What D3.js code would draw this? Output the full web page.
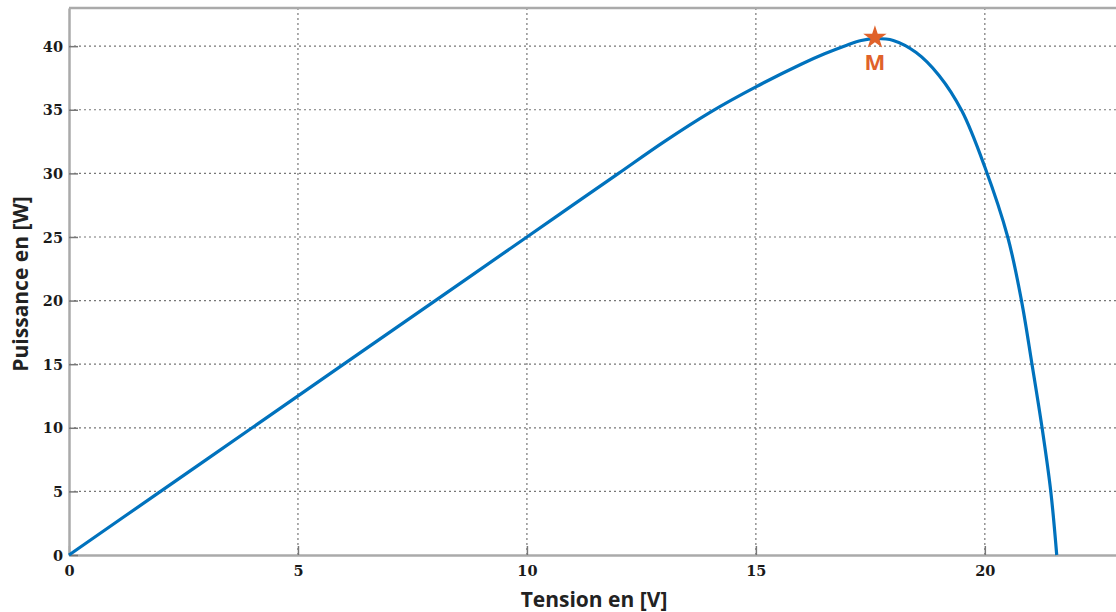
<!DOCTYPE html>
<html>
<head>
<meta charset="utf-8">
<script src="https://cdn.jsdelivr.net/npm/d3@7"></script>
<style>
  body { margin: 0; background: #fff; overflow: hidden; }
  .tick text { font-family: "DejaVu Serif", serif; font-weight: bold; font-size: 14.5px; fill: #1a1a1a; }
</style>
</head>
<body>
<div id="container"></div>
<script>
/**
 * DATA
 * */
const voltage = [0, 2, 4, 6, 8, 10, 11, 12, 13, 14, 15, 16, 16.5, 17, 17.3, 17.6, 18, 18.5, 19, 19.5, 20, 20.5, 20.8, 21.03, 21.25, 21.44, 21.57];
const power   = [0, 5.0, 10.0, 15.0, 20.0, 25.0, 27.5, 30.0, 32.5, 34.8, 36.8, 38.6, 39.4, 40.1, 40.45, 40.6, 40.45, 39.5, 37.7, 34.9, 30.5, 25.0, 20.0, 15.0, 10.0, 5.0, 0];
const xTicks = [0, 5, 10, 15, 20];
const yTicks = [0, 5, 10, 15, 20, 25, 30, 35, 40];
const mpp = { v: 17.6, p: 40.6, label: "M" };

/**
 * CONSTANTS AND GLOBALS
 * */
const width = 1116,
  height = 612,
  margin = { top: 8, bottom: 57, left: 69, right: -52 };

const xScale = d3.scaleLinear()
  .domain([0, 24])
  .range([margin.left, width - margin.right]);

const yScale = d3.scaleLinear()
  .domain([0, 43])
  .range([height - margin.bottom, margin.top]);

const svg = d3.select("#container").append("svg")
  .attr("width", width)
  .attr("height", height);

const data = voltage.map((v, i) => ({ v: v, p: power[i] }));

// grid lines (dotted)
svg.append("g")
  .selectAll("line")
  .data(xTicks.filter(d => d > 0))
  .join("line")
  .attr("x1", d => xScale(d)).attr("x2", d => xScale(d))
  .attr("y1", yScale.range()[0]).attr("y2", yScale.range()[1])
  .attr("stroke", "#777").attr("stroke-width", 1.2)
  .attr("stroke-dasharray", "2,3");

svg.append("g")
  .selectAll("line")
  .data(yTicks.filter(d => d > 0))
  .join("line")
  .attr("x1", xScale.range()[0]).attr("x2", xScale.range()[1])
  .attr("y1", d => yScale(d)).attr("y2", d => yScale(d))
  .attr("stroke", "#777").attr("stroke-width", 1.2)
  .attr("stroke-dasharray", "2,3");

// axes (ticks pointing inward, like MATLAB)
const xAxis = svg.append("g")
  .attr("transform", `translate(0,${yScale(0)})`)
  .call(d3.axisBottom(xScale).tickValues(xTicks).tickSizeInner(-9).tickSizeOuter(0).tickPadding(8));

const yAxis = svg.append("g")
  .attr("transform", `translate(${xScale(0)},0)`)
  .call(d3.axisLeft(yScale).tickValues(yTicks).tickSizeInner(-9).tickSizeOuter(0).tickPadding(6));

[xAxis, yAxis].forEach(g => {
  g.select(".domain").attr("stroke", "#aaa").attr("stroke-width", 2.5);
  g.selectAll(".tick line").attr("stroke", "#777").attr("stroke-width", 1.5);
});
xAxis.selectAll(".tick text").attr("dy", "0.9em");
yAxis.selectAll(".tick text").attr("dy", "0.35em");

// top border of the box
svg.append("line")
  .attr("x1", xScale.range()[0]).attr("x2", xScale.range()[1])
  .attr("y1", yScale.range()[1]).attr("y2", yScale.range()[1])
  .attr("stroke", "#aaa").attr("stroke-width", 2.5);

// P-V curve
const line = d3.line()
  .x(d => xScale(d.v))
  .y(d => yScale(d.p))
  .curve(d3.curveCatmullRom.alpha(0.5));

svg.append("path")
  .datum(data)
  .attr("d", line)
  .attr("fill", "none")
  .attr("stroke", "#0072BD")
  .attr("stroke-width", 3.2)
  .attr("stroke-linejoin", "round");

// maximum power point
svg.append("path")
  .attr("d", d3.symbol(d3.symbolStar, 170)())
  .attr("transform", `translate(${xScale(mpp.v)},${yScale(mpp.p) - 1})`)
  .attr("fill", "#E0622A");

svg.append("text")
  .attr("x", xScale(mpp.v))
  .attr("y", yScale(mpp.p) + 31)
  .attr("text-anchor", "middle")
  .attr("font-family", "Open Sans, sans-serif")
  .attr("font-weight", "bold")
  .attr("font-size", 22)
  .attr("fill", "#E0622A")
  .text(mpp.label);

// axis labels
svg.append("text")
  .attr("x", 594)
  .attr("y", 607)
  .attr("text-anchor", "middle")
  .attr("font-family", "Open Sans, sans-serif")
  .attr("font-weight", "bold")
  .attr("font-size", 21)
  .attr("fill", "#222")
  .text("Tension en [V]");

svg.append("text")
  .attr("transform", "translate(28,284) rotate(-90)")
  .attr("text-anchor", "middle")
  .attr("font-family", "Open Sans, sans-serif")
  .attr("font-weight", "bold")
  .attr("font-size", 21)
  .attr("fill", "#222")
  .text("Puissance en [W]");
</script>
</body>
</html>
